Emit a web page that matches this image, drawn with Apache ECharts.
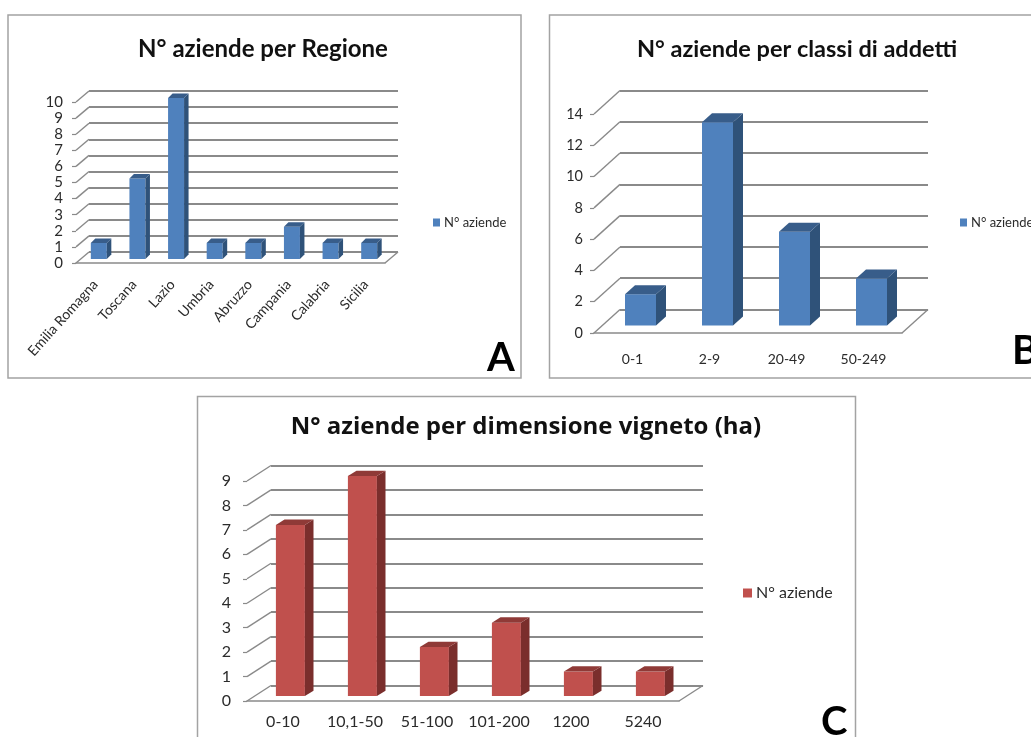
<!DOCTYPE html>
<html><head><meta charset="utf-8">
<style>html,body{margin:0;padding:0;background:#fff;overflow:hidden}#c{width:1031px;height:737px}</style>
<script src="https://cdn.jsdelivr.net/npm/echarts@6/dist/echarts.min.js"></script>
</head><body><div id="c"></div>
<script>
const regioni = ['Emilia Romagna','Toscana','Lazio','Umbria','Abruzzo','Campania','Calabria','Sicilia'];
const aziendeRegione = [1,5,10,1,1,2,1,1];
const classiAddetti = ['0-1','2-9','20-49','50-249'];
const aziendeAddetti = [2,13,6,3];
const dimensioneVigneto = ['0-10','10,1-50','51-100','101-200','1200','5240'];
const aziendeVigneto = [7,9,2,3,1,1];
const seriesName = 'N° aziende';
const FONT = 'Lato';
const GRID = '#8a8a8a', TXT = '#2b2b2b';

const charts = [
 {cats:regioni, vals:aziendeRegione, max:10, step:1, x0:76, x1:385, y0:102, y1:263, dx:13, dy:-11,
  barW:16, shiftX:3.5, shiftY:-4, depX:4.5, depY:4.5, fs:14, yfs:15, rot:48, xm:19, ym:13,
  colors:['#4F81BD','#2F5279','#385D8A'], legend:[428,211,13,7,8]},
 {cats:classiAddetti, vals:aziendeAddetti, max:14, step:2, x0:594, x1:902, y0:114, y1:333, dx:26, dy:-23.5,
  barW:31, shiftX:8, shiftY:-7.5, depX:10, depY:9, fs:14, yfs:14.5, rot:0, xm:19, ym:11,
  colors:['#4F81BD','#2F5279','#385D8A'], legend:[955,211,13,7,8]},
 {cats:dimensioneVigneto, vals:aziendeVigneto, max:9, step:1, x0:247, x1:679, y0:481, y1:701, dx:24, dy:-15.5,
  barW:29, shiftX:7.4, shiftY:-5, depX:8.6, depY:5.3, fs:16, yfs:16, rot:0, xm:13, ym:16,
  colors:['#C0504D','#7A2E2C','#8F3A37'], legend:[738,580,16,9,9]}
];

const grid=[], xAxis=[], yAxis=[], series=[], legend=[];
charts.forEach((c,k)=>{
  const w=c.x1-c.x0, h=c.y1-c.y0, front=k*2, back=k*2+1;
  grid.push({left:c.x0,top:c.y0,width:w,height:h},{left:c.x0+c.dx,top:c.y0+c.dy,width:w,height:h});
  xAxis.push({type:'category',gridIndex:front,data:c.cats,
    axisLine:{lineStyle:{color:GRID,width:1.6}},axisTick:{length:5,lineStyle:{color:GRID,width:1.2}},
    axisLabel:{interval:0,rotate:c.rot,fontFamily:FONT,fontSize:c.fs,color:TXT,margin:c.xm}});
  xAxis.push({type:'category',gridIndex:back,data:c.cats,show:false});
  yAxis.push({type:'value',gridIndex:front,min:0,max:c.max,interval:c.step,splitLine:{show:false},
    axisLine:{show:false},axisTick:{show:true,length:4,lineStyle:{color:GRID,width:1.2}},
    axisLabel:{fontFamily:FONT,fontSize:c.yfs,color:TXT,margin:c.ym}});
  yAxis.push({type:'value',gridIndex:back,min:0,max:c.max,interval:c.step,
    axisLine:{show:false},axisTick:{show:false},axisLabel:{show:false},
    splitLine:{show:true,lineStyle:{color:GRID,width:1.8}}});
  const ticks=[]; for(let v=0;v<=c.max;v+=c.step) ticks.push(v);
  series.push({type:'custom',name:'profondita'+k,xAxisIndex:front,yAxisIndex:front,silent:true,z:1,
    data:ticks.map(v=>[0,v]),encode:{x:0,y:1},
    renderItem(p,api){
      const cs=p.coordSys, y=api.coord([0,api.value(1)])[1];
      const children=[{type:'line',shape:{x1:cs.x,y1:y,x2:cs.x+c.dx,y2:y+c.dy},style:{stroke:GRID,lineWidth:1.4}}];
      if(api.value(1)===0) children.push({type:'line',shape:{x1:cs.x+cs.width,y1:y,x2:cs.x+cs.width+c.dx,y2:y+c.dy},style:{stroke:GRID,lineWidth:1.4}});
      return {type:'group',children};
    }});
  series.push({type:'custom',name:seriesName,xAxisIndex:front,yAxisIndex:front,z:3,
    itemStyle:{color:c.colors[0]},
    data:c.vals.map((v,i)=>[i,v]),encode:{x:0,y:1},
    renderItem(p,api){
      const i=api.value(0), top=api.coord([i,api.value(1)]), base=api.coord([i,0]);
      const l=top[0]+c.shiftX-c.barW/2, r=l+c.barW, t=top[1]+c.shiftY, b=base[1]+c.shiftY;
      return {type:'group',children:[
        {type:'rect',shape:{x:l,y:t,width:c.barW,height:b-t},style:{fill:c.colors[0]}},
        {type:'polygon',shape:{points:[[r,t],[r+c.depX,t-c.depY],[r+c.depX,b-c.depY],[r,b]]},style:{fill:c.colors[1]}},
        {type:'polygon',shape:{points:[[l,t],[l+c.depX,t-c.depY],[r+c.depX,t-c.depY],[r,t]]},style:{fill:c.colors[2]}}
      ]};
    }});
  legend.push({left:c.legend[0],top:c.legend[1],itemWidth:c.legend[3],itemHeight:c.legend[4],itemGap:0,selectedMode:false,
    data:[{name:seriesName,icon:'rect',itemStyle:{color:c.colors[0]}}],
    textStyle:{fontFamily:FONT,fontSize:c.legend[2],color:TXT,padding:[0,0,0,-1]}});
});

const panel=(x,y,w,h)=>({type:'rect',shape:{x,y,width:w,height:h},style:{fill:'none',stroke:'#a3a3a3',lineWidth:1.5},z:-1});
const letter=(t,x,y,s)=>({type:'text',x,y,style:{text:t,fontFamily:FONT,fontWeight:'bold',fontSize:s,fill:'#000'},z:5});

const chart=echarts.init(document.getElementById('c'),null,{renderer:'canvas'});
chart.setOption({
  animation:false,backgroundColor:'#fff',tooltip:{show:false},
  title:[
    {text:'N° aziende per Regione',left:258,top:32,textAlign:'center',textStyle:{fontFamily:FONT,fontWeight:'bold',fontSize:24,color:'#111'}},
    {text:'N° aziende per classi di addetti',left:792,top:32,textAlign:'center',textStyle:{fontFamily:FONT,fontWeight:'bold',fontSize:23.5,color:'#111'}},
    {text:'N° aziende per dimensione vigneto (ha)',left:521,top:410,textAlign:'center',textStyle:{fontFamily:'Open Sans',fontWeight:'bold',fontSize:24,color:'#111'}}
  ],
  grid,xAxis,yAxis,series,legend,
  graphic:[
    panel(8,15,513,363),panel(549.5,15,500,363),panel(197.5,396.5,658,360),
    letter('A',487,338,40),letter('B',1012,331,40),letter('C',821,702,40)
  ]
});
</script></body></html>
